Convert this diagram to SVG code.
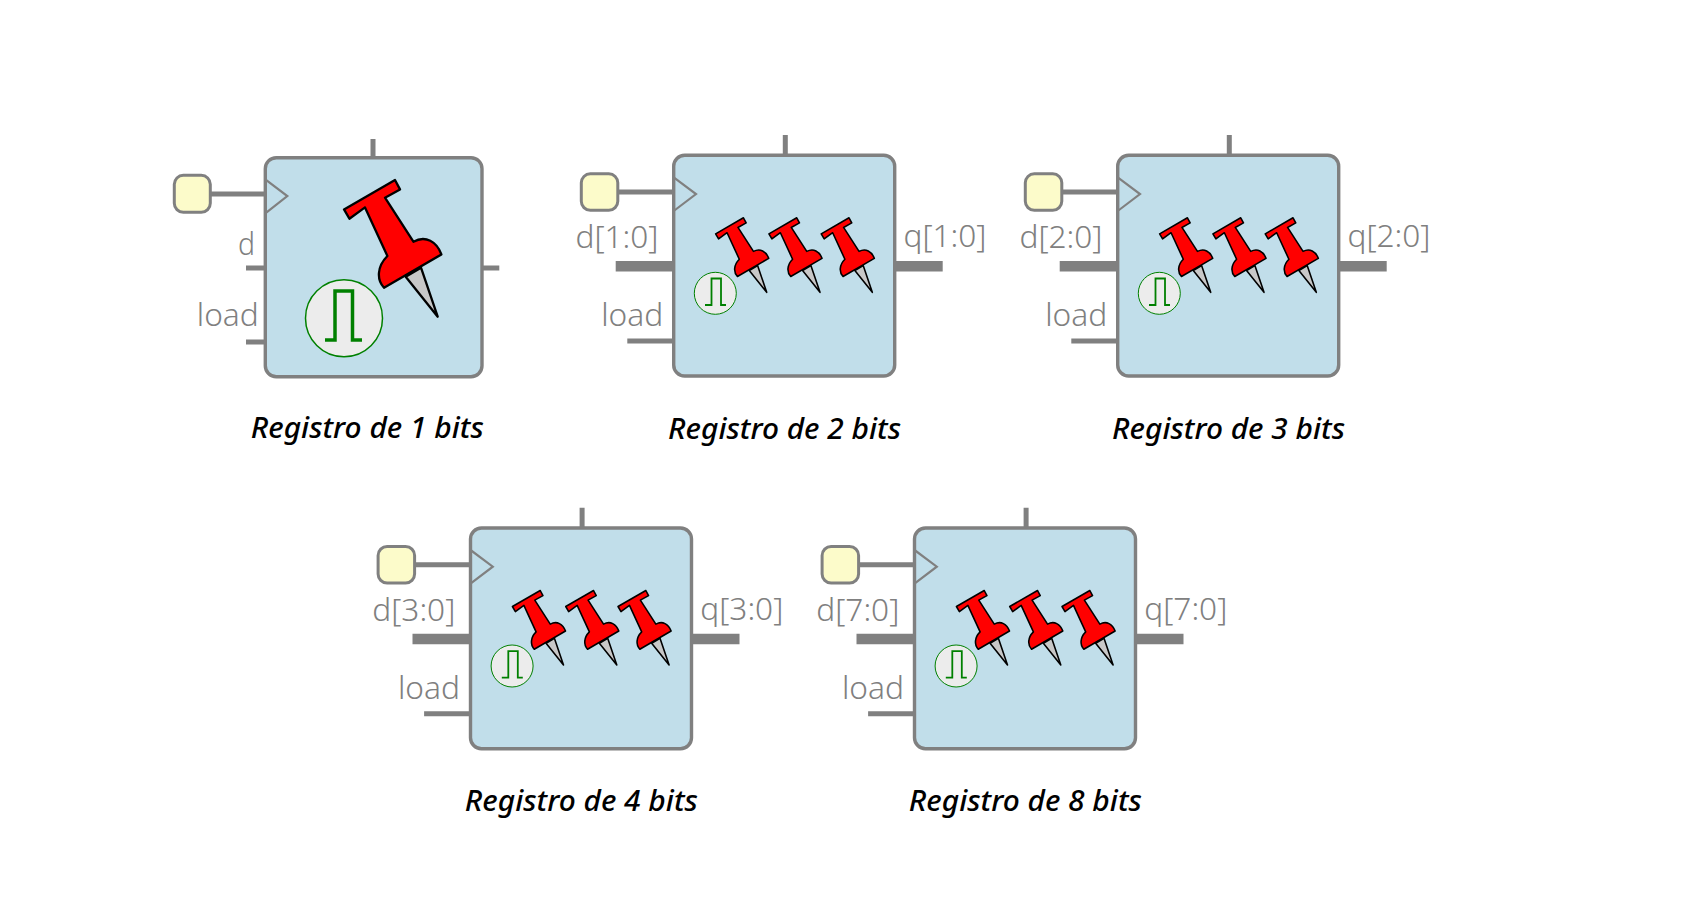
<svg xmlns="http://www.w3.org/2000/svg" xmlns:xlink="http://www.w3.org/1999/xlink" width="1683" height="903" viewBox="0 0 1683 903">
<style>
.box{fill:#c1deea;stroke:#808080;stroke-width:3.4}
.clk{fill:#fcfbca;stroke:#808080;stroke-width:3}
.tri{fill:none;stroke:#808080;stroke-width:2.200}
.wire{stroke:#808080;stroke-width:5;fill:none}
.bus{stroke:#808080;stroke-width:10.500;fill:none}
.lbl{font-family:"Noto Sans","Open Sans",sans-serif;font-weight:300;font-size:32px;fill:#808080}
.cap{font-family:"Noto Sans","Open Sans",sans-serif;font-style:italic;font-weight:500;font-size:29px;fill:#000}
.pin{stroke:#000;stroke-linejoin:round}
.big{stroke-width:2.3}
.small{stroke-width:2.9}
.pc{fill:#ececec;stroke:#008000;stroke-width:1.5}
.pcs{fill:#ececec;stroke:#008000;stroke-width:1}
.pp{fill:none;stroke:#008000;stroke-width:3.500}
.pps{fill:none;stroke:#008000;stroke-width:1.800}
</style>
<defs>
<g id="pushpin">
<path class="pin" fill="#c8c8c8" d="M-32,-40L0,0L-16.700,-49Z"/>
<path class="pin" fill="#f00" d="M-93.700,-107.300L-42.700,-136.700L-37.700,-127.300L-52.700,-119L-24.300,-75C-12,-81.700 -1,-75 3.700,-62.300L-53.700,-29C-61,-36.700 -61,-50 -50.300,-60.700L-72.700,-109.300L-88.300,-98Z"/>
</g>
<g id="pulse-s">
<circle class="pcs" cx="715.300" cy="293.300" r="21"/>
<path class="pps" d="M705,305H711.500V278.500H721V305H726"/>
</g>
<g id="pins3">
<use href="#pushpin" class="small" transform="translate(766.700,292.300) scale(.545)"/>
<use href="#pushpin" class="small" transform="translate(820,292.300) scale(.545)"/>
<use href="#pushpin" class="small" transform="translate(872.300,292.300) scale(.545)"/>
</g>
<g id="wires-n">
<path class="wire" d="M785.300,135V155M618,192H674M627.300,341H674"/>
<path class="bus" d="M615.700,266.300H674M895,266.300H942.700"/>
</g>
</defs>
<rect width="1683" height="903" fill="#fff"/>
<g id="connectors">
<path class="wire" d="M373,139V158M211,194H265M246,268H265M246,342H265M482,268H499.300"/>
<use href="#wires-n"/>
<use href="#wires-n" transform="translate(444,0)"/>
<use href="#wires-n" transform="translate(-203.200,372.700)"/>
<use href="#wires-n" transform="translate(240.800,372.700)"/>
</g>
<g id="reg1">
<rect class="box" x="265.300" y="157.700" width="216.700" height="219" rx="11"/>
<path class="tri" d="M265.300,179.300L287.300,196L265.300,213.300"/>
<rect class="clk" x="174.300" y="175.300" width="36" height="37" rx="9"/>
<text class="lbl" x="238" y="255" textLength="17" lengthAdjust="spacingAndGlyphs">d</text>
<text class="lbl" x="196.800" y="326" textLength="62" lengthAdjust="spacingAndGlyphs">load</text>
<circle class="pc" cx="344" cy="318.300" r="38.500"/>
<path class="pp" d="M325,340H335V291H352.500V340H362"/>
<use href="#pushpin" class="big" transform="translate(437.700,316.700)"/>
<text class="cap" x="250.700" y="437.500" textLength="233" lengthAdjust="spacingAndGlyphs">Registro de 1 bits</text>
</g>
<g id="reg2">
<rect class="box" x="673.700" y="155.300" width="221" height="220.700" rx="11"/>
<path class="tri" d="M673.700,177.300L696,194L673.700,211"/>
<rect class="clk" x="581.300" y="173.800" width="36.500" height="36.500" rx="9"/>
<text class="lbl" x="575.500" y="248" textLength="83" lengthAdjust="spacingAndGlyphs">d[1:0]</text>
<text class="lbl" x="903.500" y="247" textLength="83" lengthAdjust="spacingAndGlyphs">q[1:0]</text>
<text class="lbl" x="601.200" y="326" textLength="62" lengthAdjust="spacingAndGlyphs">load</text>
<use href="#pulse-s"/>
<use href="#pins3"/>
<text class="cap" x="668" y="438.500" textLength="233" lengthAdjust="spacingAndGlyphs">Registro de 2 bits</text>
</g>
<g id="reg3" transform="translate(444,0)">
<rect class="box" x="673.700" y="155.300" width="221" height="220.700" rx="11"/>
<path class="tri" d="M673.700,177.300L696,194L673.700,211"/>
<rect class="clk" x="581.300" y="173.800" width="36.500" height="36.500" rx="9"/>
<text class="lbl" x="575.500" y="248" textLength="83" lengthAdjust="spacingAndGlyphs">d[2:0]</text>
<text class="lbl" x="903.500" y="247" textLength="83" lengthAdjust="spacingAndGlyphs">q[2:0]</text>
<text class="lbl" x="601.200" y="326" textLength="62" lengthAdjust="spacingAndGlyphs">load</text>
<use href="#pulse-s"/>
<use href="#pins3"/>
<text class="cap" x="668" y="438.500" textLength="233" lengthAdjust="spacingAndGlyphs">Registro de 3 bits</text>
</g>
<g id="reg4" transform="translate(-203.200,372.700)">
<rect class="box" x="673.700" y="155.300" width="221" height="220.700" rx="11"/>
<path class="tri" d="M673.700,177.300L696,194L673.700,211"/>
<rect class="clk" x="581.300" y="173.800" width="36.500" height="36.500" rx="9"/>
<text class="lbl" x="575.500" y="248" textLength="83" lengthAdjust="spacingAndGlyphs">d[3:0]</text>
<text class="lbl" x="903.500" y="247" textLength="83" lengthAdjust="spacingAndGlyphs">q[3:0]</text>
<text class="lbl" x="601.200" y="326" textLength="62" lengthAdjust="spacingAndGlyphs">load</text>
<use href="#pulse-s"/>
<use href="#pins3"/>
<text class="cap" x="668" y="438.500" textLength="233" lengthAdjust="spacingAndGlyphs">Registro de 4 bits</text>
</g>
<g id="reg8" transform="translate(240.800,372.700)">
<rect class="box" x="673.700" y="155.300" width="221" height="220.700" rx="11"/>
<path class="tri" d="M673.700,177.300L696,194L673.700,211"/>
<rect class="clk" x="581.300" y="173.800" width="36.500" height="36.500" rx="9"/>
<text class="lbl" x="575.500" y="248" textLength="83" lengthAdjust="spacingAndGlyphs">d[7:0]</text>
<text class="lbl" x="903.500" y="247" textLength="83" lengthAdjust="spacingAndGlyphs">q[7:0]</text>
<text class="lbl" x="601.200" y="326" textLength="62" lengthAdjust="spacingAndGlyphs">load</text>
<use href="#pulse-s"/>
<use href="#pins3"/>
<text class="cap" x="668" y="438.500" textLength="233" lengthAdjust="spacingAndGlyphs">Registro de 8 bits</text>
</g>
</svg>
